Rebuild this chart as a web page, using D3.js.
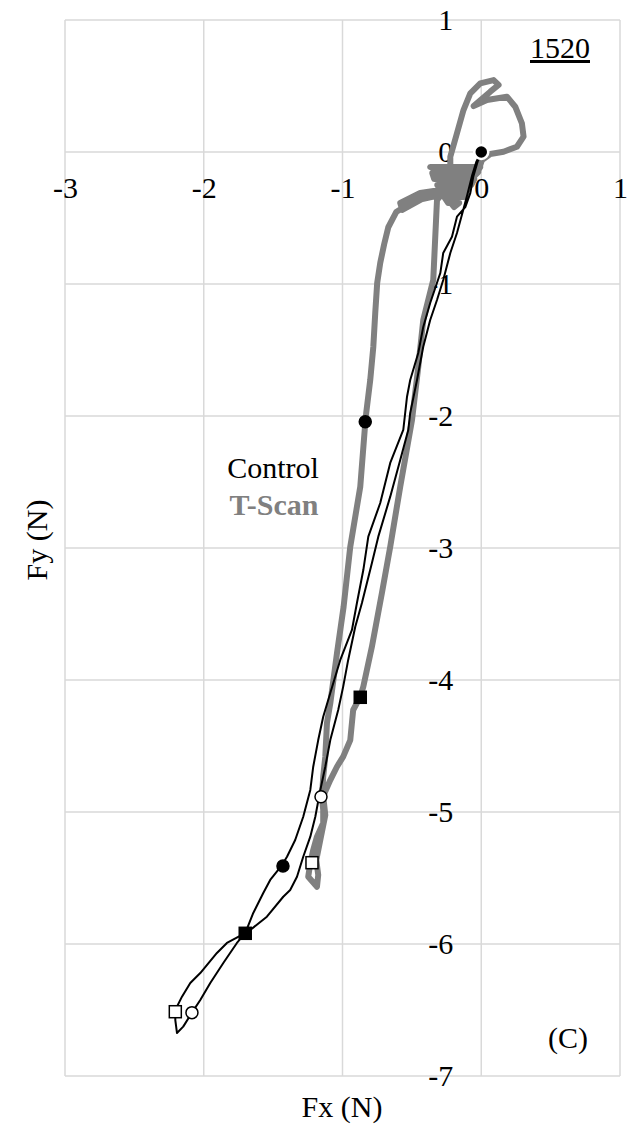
<!DOCTYPE html>
<html>
<head>
<meta charset="utf-8">
<script src="https://cdn.jsdelivr.net/npm/d3@7"></script>
<style>
  html, body { margin: 0; padding: 0; background: #fff; }
  svg { display: block; }
</style>
</head>
<body>
<svg id="chart" width="635" height="1130"></svg>
<script>
// Force trace, Fx vs Fy (N), sample 1520
const xTicks = [-3, -2, -1, 0, 1];
const yTicks = [-7, -6, -5, -4, -3, -2, -1, 0, 1];

// Control: loading path down the left branch, loop at the bottom, return up the right branch
const controlFx = [0.0, -0.029, -0.058, -0.079, -0.115, -0.175, -0.211, -0.274, -0.295, -0.368, -0.418, -0.454, -0.512, -0.535, -0.562,
  -0.656, -0.728, -0.814, -0.85, -0.896, -0.932, -1.016, -1.088, -1.139, -1.175, -1.211, -1.232, -1.283, -1.341, -1.40, -1.436,
  -1.521, -1.571, -1.643, -1.701, -1.761, -1.859, -1.953, -2.025, -2.085, -2.148, -2.193, -2.205, -2.205, -2.157, -2.097, -2.025,
  -1.905, -1.833, -1.701, -1.665, -1.545, -1.427, -1.377, -1.328, -1.283, -1.232, -1.196, -1.16, -1.124, -1.088, -1.031, -0.995,
  -0.959, -0.908, -0.86, -0.788, -0.742, -0.656, -0.584, -0.526, -0.512, -0.463, -0.418, -0.368, -0.319, -0.274, -0.223, -0.175,
  -0.13, -0.101, -0.065, -0.036, 0.0];
const controlFy = [0.0, -0.083, -0.189, -0.311, -0.417, -0.49, -0.642, -0.765, -0.917, -1.144, -1.326, -1.523, -1.727, -1.854, -2.106,
  -2.356, -2.659, -2.914, -3.167, -3.417, -3.621, -3.848, -4.098, -4.278, -4.455, -4.657, -4.833, -5.036, -5.212, -5.339, -5.402,
  -5.515, -5.614, -5.765, -5.917, -5.992, -6.144, -6.295, -6.424, -6.52, -6.626, -6.674, -6.576, -6.5, -6.399, -6.295, -6.22,
  -6.068, -5.992, -5.917, -5.894, -5.793, -5.642, -5.591, -5.49, -5.339, -5.187, -5.036, -4.833, -4.657, -4.455, -4.227, -4.05,
  -3.848, -3.596, -3.417, -3.114, -2.914, -2.611, -2.333, -2.106, -1.977, -1.727, -1.475, -1.273, -1.121, -0.97, -0.765, -0.614,
  -0.439, -0.326, -0.174, -0.076, 0.0];

// T-Scan: loop above the origin, dense cluster just below it, left branch down to the tail, right branch back up
const tscanFx = [-0.019, 0.005, 0.065, 0.161, 0.257, 0.305, 0.293, 0.245, 0.185, 0.041, -0.055, 0.065, 0.125, 0.089, -0.007, -0.079,
  -0.128, -0.175, -0.223, -0.223,
  -0.368, -0.007, -0.036, -0.353, -0.339, -0.05, -0.072, -0.317, -0.288, -0.094, -0.123, -0.267, -0.238, -0.159, -0.195,
  -0.295, -0.44, -0.584, -0.569, -0.425, -0.295, -0.476, -0.613,
  -0.67, -0.70, -0.728, -0.75, -0.764, -0.778, -0.80, -0.829, -0.836, -0.872, -0.944, -0.992, -1.04, -1.088, -1.112,
  -1.124, -1.139, -1.148, -1.139, -1.139, -1.184, -1.211, -1.232, -1.247, -1.184, -1.175, -1.189, -1.16, -1.124, -1.139, -1.088,
  -1.04, -0.995, -0.944, -0.923, -0.872, -0.85, -0.788, -0.716, -0.656, -0.584, -0.499, -0.454, -0.418, -0.346, -0.319, -0.259,
  -0.115, -0.022];
const tscanFy = [-0.136, -0.061, -0.015, 0.002, 0.04, 0.116, 0.217, 0.343, 0.419, 0.394, 0.348, 0.457, 0.508, 0.545, 0.52, 0.445,
  0.318, 0.142, -0.036, -0.136,
  -0.114, -0.114, -0.159, -0.159, -0.205, -0.205, -0.25, -0.25, -0.295, -0.295, -0.341, -0.341, -0.386, -0.386, -0.417,
  -0.288, -0.311, -0.386, -0.439, -0.356, -0.326, -0.364, -0.455,
  -0.57, -0.70, -0.84, -0.992, -1.22, -1.477, -1.727, -1.977, -2.053, -2.536, -2.99, -3.445, -3.798, -4.177, -4.326,
  -4.581, -4.732, -4.884, -4.985, -5.083, -5.187, -5.288, -5.386, -5.49, -5.566, -5.477, -5.364, -5.212, -5.023, -4.879, -4.758,
  -4.657, -4.581, -4.455, -4.227, -4.127, -4.051, -3.748, -3.341, -2.99, -2.536, -2.03, -1.629, -1.273, -0.97, -0.364, -0.288,
  -0.25, -0.152];

// Event markers
const markerFx = [-0.836, -0.872, -1.155, -1.22, -1.429, -1.701, -2.085, -2.205, 0.0];
const markerFy = [-2.043, -4.131, -4.884, -5.384, -5.409, -5.919, -6.52, -6.513, 0.0];
const markerShape = ["circle", "square", "circle", "square", "circle", "square", "circle", "square", "circle"];
const markerFilled = [true, true, false, false, true, true, false, false, true];

const FONT = "'Liberation Serif'";
const svg = d3.select("#chart");
const x = d3.scaleLinear().domain([-3, 1]).range([65, 620]);
const y = d3.scaleLinear().domain([-7, 1]).range([1076, 20]);

const gridColor = "#d9d9d9";
const fontSize = 30;

// Gridlines
svg.append("g").selectAll("line").data(xTicks).join("line")
  .attr("x1", d => x(d)).attr("x2", d => x(d))
  .attr("y1", y(1)).attr("y2", y(-7))
  .attr("stroke", gridColor).attr("stroke-width", 1.5);
svg.append("g").selectAll("line").data(yTicks).join("line")
  .attr("x1", x(-3)).attr("x2", x(1))
  .attr("y1", d => y(d)).attr("y2", d => y(d))
  .attr("stroke", gridColor).attr("stroke-width", 1.5);

// Axes crossing at the origin
const xAxis = svg.append("g")
  .attr("transform", `translate(0,${y(0)})`)
  .call(d3.axisBottom(x).tickValues(xTicks).tickSize(0).tickPadding(25));
const yAxis = svg.append("g")
  .attr("transform", `translate(${x(0)},0)`)
  .call(d3.axisLeft(y).tickValues(yTicks).tickSize(0).tickPadding(28));
[xAxis, yAxis].forEach(g => {
  g.attr("font-size", fontSize);
  g.select(".domain").remove();
  g.selectAll("text")
    .style("font-family", FONT)
    .attr("fill", "#000")
    .text(d => d < 0 ? "-" + Math.abs(d) : String(d));
});

// Traces
const line = d3.line().x(d => x(d[0])).y(d => y(d[1]));
const tscan = tscanFx.map((v, i) => [v, tscanFy[i]]);
const control = controlFx.map((v, i) => [v, controlFy[i]]);

svg.append("path").datum(tscan)
  .attr("d", line).attr("fill", "none")
  .attr("stroke", "#808080").attr("stroke-width", 6)
  .attr("stroke-linejoin", "round").attr("stroke-linecap", "round");
svg.append("path").datum(control)
  .attr("d", line).attr("fill", "none")
  .attr("stroke", "#000").attr("stroke-width", 2)
  .attr("stroke-linejoin", "round");

// Markers
const markers = markerFx.map((v, i) => ({ fx: v, fy: markerFy[i], shape: markerShape[i], filled: markerFilled[i] }));
const mg = svg.append("g");
markers.forEach((m, i) => {
  const isStart = i === markers.length - 1;
  if (m.shape === "circle") {
    mg.append("circle")
      .attr("cx", x(m.fx)).attr("cy", y(m.fy)).attr("r", isStart ? 7 : 6)
      .attr("fill", m.filled ? "#000" : "#fff")
      .attr("stroke", isStart ? "#fff" : "#000")
      .attr("stroke-width", isStart ? 2.5 : 1.5);
  } else {
    const s = 12;
    mg.append("rect")
      .attr("x", x(m.fx) - s / 2).attr("y", y(m.fy) - s / 2)
      .attr("width", s).attr("height", s)
      .attr("fill", m.filled ? "#000" : "#fff")
      .attr("stroke", "#000").attr("stroke-width", 1.5);
  }
});

function label(xp, yp, str, opts = {}) {
  const t = svg.append("text").attr("x", xp).attr("y", yp)
    .attr("text-anchor", opts.anchor || "middle")
    .attr("font-size", fontSize)
    .attr("fill", opts.fill || "#000")
    .style("font-family", FONT)
    .text(str);
  if (opts.bold) t.attr("font-weight", "bold");
  if (opts.underline) t.attr("text-decoration", "underline");
  if (opts.transform) t.attr("transform", opts.transform);
  return t;
}

// Legend text
label(273, 478, "Control");
label(274, 515, "T-Scan", { bold: true, fill: "#808080" });

// Sample id and panel letter
label(530, 58, "1520", { anchor: "start", underline: true });
label(568, 1048, "(C)");

// Axis titles
label(342, 1117, "Fx (N)");
label(0, 0, "Fy (N)", { transform: "translate(47,540) rotate(-90)" });
</script>
</body>
</html>
